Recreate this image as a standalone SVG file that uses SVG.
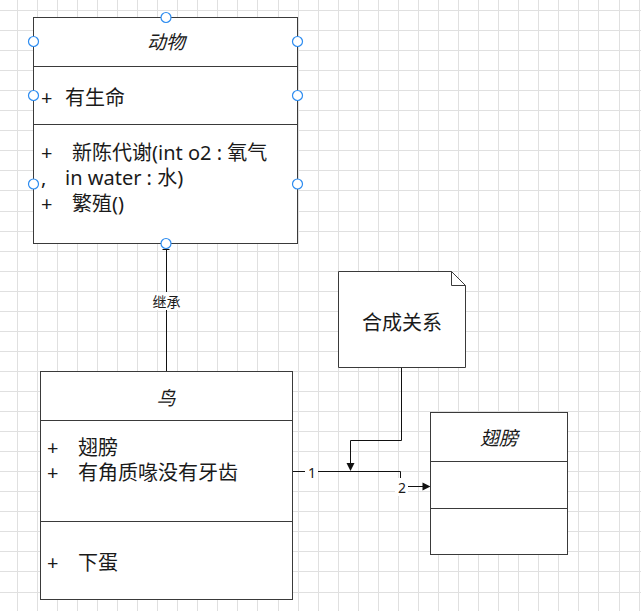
<svg xmlns="http://www.w3.org/2000/svg" width="641" height="611" viewBox="0 0 641 611">
<style>
.grid{stroke:#e0e0e0;stroke-width:1;fill:none}
.box{fill:#fff;stroke:#3a3a3a;stroke-width:1}
.div{stroke:#3a3a3a;stroke-width:1;fill:none}
.t{font-family:"Noto Sans","Noto Sans CJK SC",sans-serif;fill:#1a1a1a;dominant-baseline:central}
.m{font-size:20px}
.title{font-size:19px;font-style:italic;text-anchor:middle}
.lbl{font-size:14px;text-anchor:middle}
.conn{stroke:#111;stroke-width:1;fill:none}
.h{fill:#fff;stroke:#2d8cf0;stroke-width:1.2}
</style>
<rect width="641" height="611" fill="#fff"/>
<path class="grid" d="M17.5 0V611M37.5 0V611M57.5 0V611M77.5 0V611M97.5 0V611M117.5 0V611M137.5 0V611M157.5 0V611M177.5 0V611M197.5 0V611M217.5 0V611M237.5 0V611M257.5 0V611M278.5 0V611M298.5 0V611M318.5 0V611M338.5 0V611M358.5 0V611M378.5 0V611M398.5 0V611M418.5 0V611M438.5 0V611M458.5 0V611M478.5 0V611M498.5 0V611M518.5 0V611M538.5 0V611M558.5 0V611M578.5 0V611M598.5 0V611M619.5 0V611M639.5 0V611
M0 10.5H641M0 30.5H641M0 50.5H641M0 70.5H641M0 90.5H641M0 110.5H641M0 130.5H641M0 150.5H641M0 170.5H641M0 190.5H641M0 211.5H641M0 231.5H641M0 251.5H641M0 271.5H641M0 291.5H641M0 311.5H641M0 331.5H641M0 351.5H641M0 371.5H641M0 391.5H641M0 411.5H641M0 431.5H641M0 451.5H641M0 471.5H641M0 491.5H641M0 511.5H641M0 531.5H641M0 551.5H641M0 571.5H641M0 592.5H641"/>

<g id="connectors">
  <path class="conn" d="M166.5 248V371.5M162.5 249.5H169.5"/>
  <rect x="150" y="292" width="33" height="18" fill="#fff"/>
  <text class="t lbl" x="166.5" y="301">继承</text>
  <path class="conn" d="M401.5 367.5V440.5H350.5V463"/>
  <polygon points="346.5,463 354.5,463 350.5,471" fill="#111"/>
  <path class="conn" d="M292.5 471.5H400.5V486.5H423"/>
  <polygon points="422.5,482.5 422.5,490.5 430.5,486.5" fill="#111"/>
  <rect x="305" y="463" width="13" height="18" fill="#fff"/>
  <text class="t lbl" x="312" y="472">1</text>
  <rect x="395" y="478" width="13" height="18" fill="#fff"/>
  <text class="t lbl" x="402" y="487">2</text>
</g>

<g id="animal">
  <rect class="box" x="33.5" y="17.5" width="264" height="226"/>
  <path class="div" d="M33.5 66.5H297.5M33.5 124.5H297.5"/>
  <text class="t title" x="166" y="42">动物</text>
  <text class="t m" x="41" y="97">+</text>
  <text class="t m" x="65" y="97">有生命</text>
  <text class="t m" x="41" y="152">+</text>
  <text class="t m" x="72" y="152">新陈代谢(int o2 : 氧气</text>
  <text class="t m" x="41" y="177">,</text>
  <text class="t m" x="65" y="177">in water : 水)</text>
  <text class="t m" x="41" y="203">+</text>
  <text class="t m" x="72" y="203">繁殖()</text>
  <circle class="h" cx="166" cy="17.5" r="5"/>
  <circle class="h" cx="33.5" cy="41.5" r="5"/>
  <circle class="h" cx="297.5" cy="41.5" r="5"/>
  <circle class="h" cx="33.5" cy="95.5" r="5"/>
  <circle class="h" cx="297.5" cy="95.5" r="5"/>
  <circle class="h" cx="33.5" cy="184" r="5"/>
  <circle class="h" cx="297.5" cy="184" r="5"/>
  <circle class="h" cx="166" cy="243.5" r="5"/>
</g>

<g id="bird">
  <rect class="box" x="40.5" y="371.5" width="252" height="228"/>
  <path class="div" d="M40.5 420.5H292.5M40.5 521.5H292.5"/>
  <text class="t title" x="166" y="398">鸟</text>
  <text class="t m" x="47" y="447">+</text>
  <text class="t m" x="78" y="447">翅膀</text>
  <text class="t m" x="47" y="472">+</text>
  <text class="t m" x="78" y="472">有角质喙没有牙齿</text>
  <text class="t m" x="47" y="562">+</text>
  <text class="t m" x="78" y="562">下蛋</text>
</g>

<g id="note">
  <path class="box" d="M338.5 271.5H451.5L465.5 285.5V367.5H338.5Z"/>
  <path class="div" d="M451.5 271.5V285.5H465.5"/>
  <text class="t" x="402" y="322" font-size="20" text-anchor="middle">合成关系</text>
</g>

<g id="wing">
  <rect class="box" x="430.5" y="412.5" width="137" height="142"/>
  <path class="div" d="M430.5 461.5H567.5M430.5 508.5H567.5"/>
  <text class="t title" x="499" y="438">翅膀</text>
</g>
</svg>
